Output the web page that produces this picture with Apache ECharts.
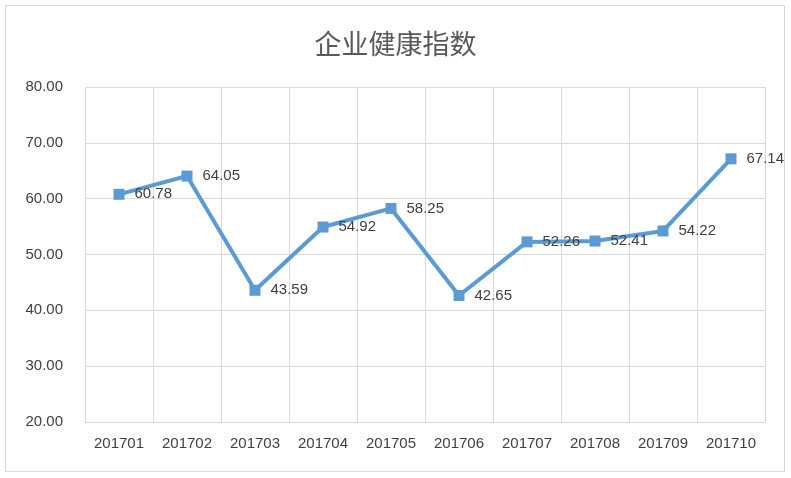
<!DOCTYPE html>
<html><head><meta charset="utf-8">
<script src="https://cdn.jsdelivr.net/npm/echarts@6/dist/echarts.min.js"></script>
<style>html,body{margin:0;padding:0;background:#fff}#c{width:791px;height:478px}</style>
</head><body>
<div id="c"></div>
<script>
var categories = ['201701','201702','201703','201704','201705','201706','201707','201708','201709','201710'];
var values = [60.78, 64.05, 43.59, 54.92, 58.25, 42.65, 52.26, 52.41, 54.22, 67.14];
var yTicks = [20, 30, 40, 50, 60, 70, 80];

var chart = echarts.init(document.getElementById('c'));
chart.setOption({
    backgroundColor: '#fff',
    graphic: [{
        type: 'rect', shape: {x: 5.5, y: 5.5, width: 779, height: 466},
        style: {fill: 'none', stroke: '#d9d9d9', lineWidth: 1}
    }],
    title: {
        text: '企业健康指数', left: 'center', top: 25,
        textStyle: {fontSize: 27, fontWeight: 'normal', color: '#595959', fontFamily: 'Noto Sans CJK SC'}
    },
    grid: {left: 85, right: 26, top: 87, bottom: 56},
    xAxis: {
        type: 'category', data: categories, boundaryGap: true,
        axisLine: {lineStyle: {color: '#d9d9d9'}},
        axisTick: {show: false},
        splitLine: {show: true, lineStyle: {color: '#d9d9d9'}},
        axisLabel: {color: '#404040', fontSize: 15, margin: 14, interval: 0}
    },
    yAxis: {
        type: 'value', min: yTicks[0], max: yTicks[yTicks.length - 1], interval: 10,
        axisLine: {show: false}, axisTick: {show: false},
        splitLine: {lineStyle: {color: '#d9d9d9'}},
        axisLabel: {color: '#404040', fontSize: 15, margin: 22, formatter: function (v) { return v.toFixed(2); }}
    },
    series: [{
        type: 'line', data: values,
        symbol: 'rect', symbolSize: 11,
        lineStyle: {color: '#5B9BD5', width: 4},
        itemStyle: {color: '#5B9BD5'},
        label: {show: true, position: 'right', distance: 10, color: '#404040', fontSize: 15,
            formatter: function (p) { return p.value.toFixed(2); }}
    }]
});
</script>
</body></html>
